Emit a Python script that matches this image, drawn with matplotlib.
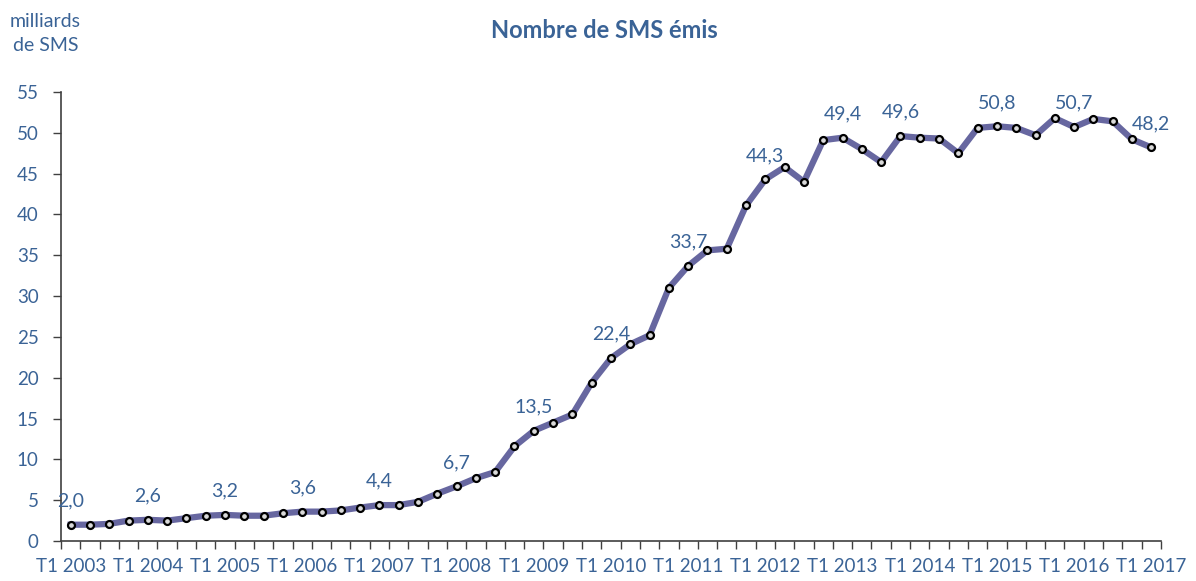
import matplotlib.pyplot as plt
import numpy as np

plt.rcParams['font.family'] = ['Lato', 'DejaVu Sans']

# quarterly SMS volumes (billions), T1 2003 .. T1 2017
years = list(range(2003, 2018))
sms = [2.0, 2.0, 2.1, 2.5, 2.6, 2.5, 2.8, 3.1,
       3.2, 3.1, 3.1, 3.4, 3.6, 3.6, 3.75, 4.1,
       4.4, 4.4, 4.8, 5.8, 6.7, 7.7, 8.45, 11.6,
       13.5, 14.5, 15.5, 19.4, 22.4, 24.1, 25.2, 31.0,
       33.7, 35.6, 35.8, 41.1, 44.3, 45.8, 44.0, 49.1,
       49.4, 48.0, 46.4, 49.6, 49.4, 49.3, 47.5, 50.6,
       50.8, 50.6, 49.7, 51.8, 50.7, 51.7, 51.4, 49.2,
       48.2]
tick_labels = ['T1 %d' % y for y in years]
# points that carry a value label
labelled = [0, 4, 8, 12, 16, 20, 24, 28, 32, 36, 40, 43, 48, 52, 56]

blue = '#3A6396'
line_col = '#6767A0'

fig = plt.figure(figsize=(11.96, 5.81), dpi=100)
ax = fig.add_axes([0.051, 0.0688, 0.9197, 0.7729])

x = np.arange(len(sms))
ax.plot(x, sms, color=line_col, lw=4.5, solid_joinstyle='round', zorder=2)
ax.plot(x, sms, ls='none', marker='o', ms=5, mfc='#d9d9d9', mec='black', mew=1.6, zorder=3)

for i in labelled:
    ax.annotate(('%.1f' % sms[i]).replace('.', ','), (x[i], sms[i]),
                xytext=(0, 11), textcoords='offset points',
                ha='center', va='bottom', fontsize=14, color=blue)

ax.set_xlim(-0.5, len(sms) - 0.5)
ax.set_ylim(0, 55)
ax.set_yticks(range(0, 56, 5))
ax.set_xticks(x[::4])
ax.set_xticklabels(tick_labels)
ax.set_xticks(np.arange(-0.5, len(sms), 1), minor=True)
ax.tick_params(axis='x', which='major', length=0, pad=12, labelsize=13.5, labelcolor=blue)
ax.tick_params(axis='x', which='minor', length=6, width=1, color='#404040', direction='out')
ax.tick_params(axis='y', length=6, width=1, color='#404040', labelsize=13.5,
               labelcolor=blue, pad=10)

for s in ['top', 'right']:
    ax.spines[s].set_visible(False)
for s in ['left', 'bottom']:
    ax.spines[s].set_color('#404040')
    ax.spines[s].set_linewidth(1.2)

fig.text(0.505, 0.948, 'Nombre de SMS émis', ha='center', va='center',
         fontsize=17, fontweight='bold', color=blue)
fig.text(0.038, 0.942, 'milliards\nde SMS', ha='center', va='center',
         fontsize=14, color=blue, linespacing=1.5)

fig.savefig('out.png', dpi=100)
